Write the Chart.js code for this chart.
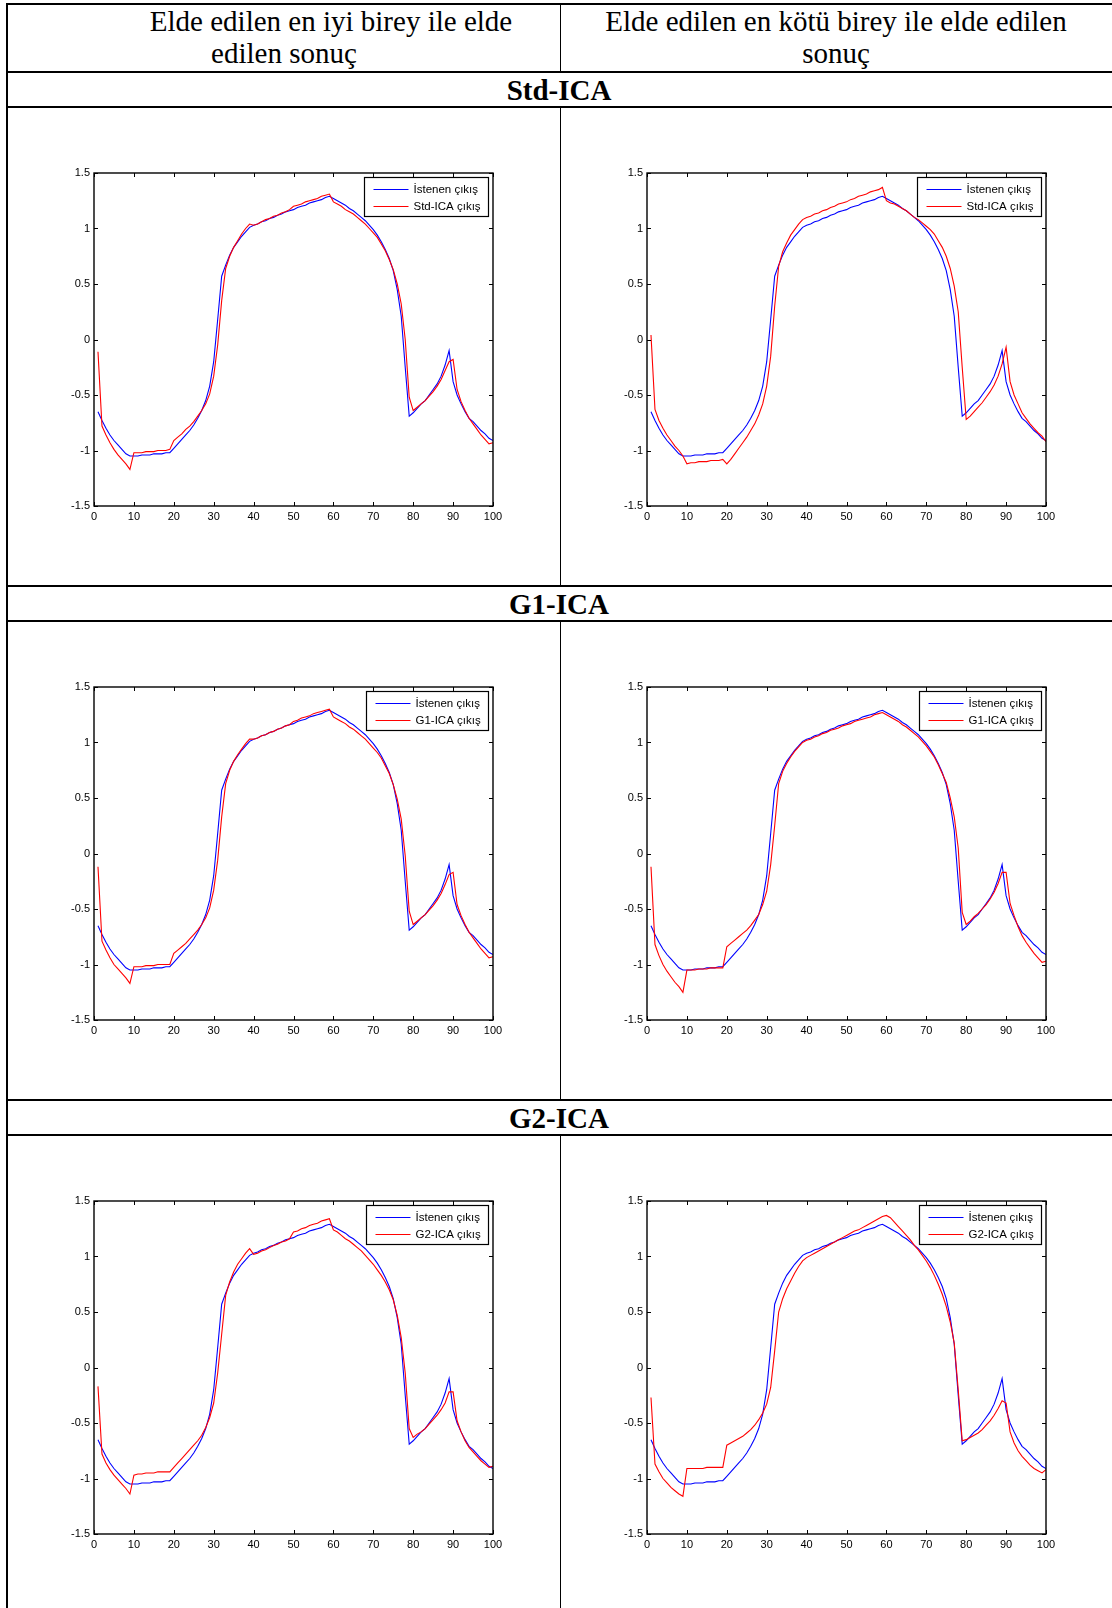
<!DOCTYPE html>
<html lang="tr">
<head>
<meta charset="utf-8">
<title>ICA çıkışları</title>
<script src="https://cdn.jsdelivr.net/npm/chart.js@4.4.1/dist/chart.umd.min.js"></script>
<style>
  body { margin: 0; background: #fff; }
  #page { position: relative; width: 1112px; height: 1608px; overflow: hidden; background: #fff; }
  .rule { position: absolute; background: #000; }
  .cell-text {
    position: absolute;
    font-family: 'Liberation Serif', 'Times New Roman', serif;
    font-size: 29px;
    line-height: 32px;
    white-space: nowrap;
    color: #000;
    transform: translateX(-50%);
  }
  .section-title { font-weight: bold; }
  canvas { position: absolute; }
</style>
</head>
<body>
<div id="page">
  <div class="cell-text" style="left:331px; top:5px;">Elde edilen en iyi birey ile elde</div>
  <div class="cell-text" style="left:284px; top:37px;">edilen sonuç</div>
  <div class="cell-text" style="left:836px; top:5px;">Elde edilen en kötü birey ile elde edilen</div>
  <div class="cell-text" style="left:836px; top:37px;">sonuç</div>
</div>

<script>
// --- data -----------------------------------------------------------
const methods = ['Std-ICA', 'G1-ICA', 'G2-ICA'];
const xTicks = [0, 10, 20, 30, 40, 50, 60, 70, 80, 90, 100];
const yTicks = [-1.5, -1, -0.5, 0, 0.5, 1, 1.5];
const sampleIdx = Array.from({ length: 100 }, (_, i) => i + 1);

// desired output (same target in every panel)
const desired = [
  -0.65, -0.73, -0.80, -0.86, -0.91, -0.95, -0.99, -1.03, -1.05, -1.05,
  -1.05, -1.04, -1.04, -1.04, -1.03, -1.03, -1.03, -1.02, -1.02, -0.98,
  -0.94, -0.90, -0.86, -0.82, -0.77, -0.71, -0.64, -0.55, -0.42, -0.20,
   0.18,  0.57,  0.67,  0.76,  0.83,  0.88,  0.93,  0.97,  1.01,  1.03,
   1.04,  1.06,  1.07,  1.09,  1.10,  1.12,  1.13,  1.15,  1.16,  1.17,
   1.19,  1.20,  1.21,  1.23,  1.24,  1.25,  1.26,  1.28,  1.29,  1.27,
   1.25,  1.23,  1.21,  1.18,  1.16,  1.13,  1.10,  1.07,  1.03,  0.99,
   0.94,  0.88,  0.81,  0.73,  0.62,  0.45,  0.21, -0.25, -0.69, -0.66,
  -0.62, -0.58, -0.55, -0.50, -0.45, -0.40, -0.33, -0.23, -0.10, -0.38,
  -0.50, -0.58, -0.65, -0.71, -0.74, -0.78, -0.82, -0.85, -0.89, -0.91
];

const stdBest = [
  -0.11, -0.78, -0.86, -0.93, -0.99, -1.04, -1.08, -1.12, -1.17, -1.02,
  -1.02, -1.02, -1.01, -1.01, -1.01, -1.00, -1.00, -1.00, -0.99, -0.91,
  -0.88, -0.85, -0.81, -0.78, -0.74, -0.69, -0.64, -0.58, -0.49, -0.33,
  -0.05,  0.35,  0.64,  0.75,  0.83,  0.89,  0.95,  1.00,  1.04,  1.03,
   1.04,  1.06,  1.08,  1.09,  1.11,  1.12,  1.14,  1.15,  1.17,  1.20,
   1.21,  1.22,  1.24,  1.25,  1.26,  1.27,  1.29,  1.30,  1.31,  1.24,
   1.22,  1.20,  1.17,  1.15,  1.13,  1.10,  1.07,  1.04,  1.00,  0.96,
   0.92,  0.86,  0.80,  0.72,  0.63,  0.50,  0.32,  0.00, -0.52, -0.64,
  -0.61, -0.58, -0.55, -0.51, -0.47, -0.42, -0.36, -0.28, -0.20, -0.18,
  -0.45, -0.56, -0.64, -0.71, -0.76, -0.81, -0.86, -0.90, -0.94, -0.93
];

const stdWorst = [
   0.04, -0.63, -0.73, -0.80, -0.86, -0.91, -0.96, -1.00, -1.05, -1.12,
  -1.11, -1.11, -1.10, -1.10, -1.10, -1.09, -1.09, -1.09, -1.08, -1.12,
  -1.08, -1.03, -0.98, -0.93, -0.88, -0.82, -0.76, -0.68, -0.58, -0.42,
  -0.15,  0.30,  0.66,  0.79,  0.87,  0.94,  0.99,  1.04,  1.08,  1.10,
   1.11,  1.13,  1.14,  1.16,  1.17,  1.19,  1.20,  1.22,  1.23,  1.24,
   1.26,  1.27,  1.29,  1.30,  1.31,  1.33,  1.34,  1.35,  1.37,  1.25,
   1.23,  1.22,  1.20,  1.18,  1.16,  1.13,  1.10,  1.08,  1.05,  1.02,
   0.99,  0.95,  0.89,  0.83,  0.75,  0.64,  0.48,  0.25, -0.25, -0.72,
  -0.69, -0.65, -0.61, -0.57, -0.52, -0.47, -0.41, -0.33, -0.22, -0.07,
  -0.38, -0.50, -0.58, -0.66, -0.71, -0.76, -0.80, -0.84, -0.87, -0.92
];

const g1Best = [
  -0.12, -0.79, -0.87, -0.94, -1.00, -1.04, -1.08, -1.12, -1.17, -1.02,
  -1.02, -1.02, -1.01, -1.01, -1.01, -1.00, -1.00, -1.00, -1.00, -0.90,
  -0.87, -0.84, -0.81, -0.77, -0.73, -0.69, -0.64, -0.58, -0.49, -0.33,
  -0.06,  0.33,  0.63,  0.75,  0.83,  0.89,  0.94,  0.99,  1.03,  1.03,
   1.04,  1.06,  1.07,  1.09,  1.10,  1.12,  1.13,  1.15,  1.16,  1.19,
   1.20,  1.22,  1.23,  1.24,  1.26,  1.27,  1.28,  1.29,  1.30,  1.23,
   1.21,  1.19,  1.17,  1.14,  1.12,  1.09,  1.06,  1.03,  0.99,  0.95,
   0.91,  0.86,  0.79,  0.72,  0.62,  0.49,  0.31, -0.02, -0.52, -0.64,
  -0.61, -0.58, -0.55, -0.51, -0.47, -0.42, -0.36, -0.28, -0.19, -0.17,
  -0.46, -0.56, -0.64, -0.71, -0.76, -0.81, -0.86, -0.90, -0.94, -0.93
];

const g1Worst = [
  -0.12, -0.82, -0.92, -1.00, -1.06, -1.11, -1.16, -1.20, -1.25, -1.05,
  -1.05, -1.05, -1.04, -1.04, -1.04, -1.03, -1.03, -1.03, -1.03, -0.84,
  -0.81, -0.78, -0.75, -0.72, -0.69, -0.65, -0.60, -0.55, -0.46, -0.34,
  -0.10,  0.25,  0.63,  0.74,  0.81,  0.87,  0.92,  0.96,  1.00,  1.02,
   1.03,  1.05,  1.06,  1.08,  1.09,  1.11,  1.12,  1.13,  1.15,  1.16,
   1.17,  1.19,  1.20,  1.21,  1.22,  1.23,  1.25,  1.26,  1.27,  1.25,
   1.23,  1.21,  1.19,  1.16,  1.14,  1.11,  1.08,  1.05,  1.01,  0.97,
   0.92,  0.87,  0.80,  0.72,  0.64,  0.50,  0.33,  0.05, -0.53, -0.64,
  -0.61, -0.57, -0.54, -0.50, -0.46, -0.41, -0.35, -0.27, -0.17, -0.17,
  -0.45, -0.56, -0.66, -0.74, -0.80, -0.85, -0.90, -0.94, -0.98, -0.97
];

const g2Best = [
  -0.17, -0.78, -0.86, -0.92, -0.97, -1.01, -1.05, -1.09, -1.14, -0.97,
  -0.96, -0.96, -0.95, -0.95, -0.95, -0.94, -0.94, -0.94, -0.94, -0.90,
  -0.86, -0.82, -0.78, -0.74, -0.70, -0.66, -0.61, -0.54, -0.45, -0.32,
  -0.05,  0.30,  0.65,  0.77,  0.86,  0.93,  0.98,  1.03,  1.07,  1.02,
   1.03,  1.05,  1.06,  1.08,  1.10,  1.11,  1.13,  1.14,  1.16,  1.22,
   1.23,  1.25,  1.26,  1.28,  1.29,  1.30,  1.32,  1.33,  1.34,  1.24,
   1.22,  1.19,  1.16,  1.14,  1.11,  1.08,  1.05,  1.01,  0.97,  0.93,
   0.88,  0.83,  0.77,  0.70,  0.61,  0.47,  0.27, -0.05, -0.55, -0.63,
  -0.60, -0.58, -0.55, -0.51, -0.47, -0.43, -0.38, -0.32, -0.22, -0.22,
  -0.48, -0.58, -0.66, -0.72, -0.76, -0.80, -0.84, -0.87, -0.90, -0.89
];

const g2Worst = [
  -0.27, -0.87, -0.94, -1.00, -1.04, -1.08, -1.11, -1.14, -1.16, -0.91,
  -0.91, -0.91, -0.91, -0.91, -0.90, -0.90, -0.90, -0.90, -0.90, -0.70,
  -0.68, -0.66, -0.64, -0.62, -0.59, -0.56, -0.52, -0.47, -0.41, -0.33,
  -0.18,  0.15,  0.50,  0.62,  0.71,  0.78,  0.85,  0.91,  0.96,  0.99,
   1.01,  1.03,  1.05,  1.07,  1.09,  1.11,  1.13,  1.15,  1.17,  1.19,
   1.21,  1.23,  1.24,  1.26,  1.28,  1.30,  1.32,  1.34,  1.36,  1.37,
   1.35,  1.31,  1.27,  1.23,  1.19,  1.15,  1.10,  1.06,  1.01,  0.96,
   0.90,  0.83,  0.75,  0.66,  0.55,  0.41,  0.22, -0.20, -0.66, -0.65,
  -0.63, -0.61, -0.59, -0.56, -0.52, -0.48, -0.43, -0.37, -0.30, -0.32,
  -0.58, -0.68, -0.75, -0.80, -0.84, -0.88, -0.91, -0.93, -0.95, -0.92
];

const bestRuns = [stdBest, g1Best, g2Best];
const worstRuns = [stdWorst, g1Worst, g2Worst];

// --- layout ---------------------------------------------------------
const SECTION_PITCH = 514;
const TICK = 4;
const PAD_TOP = 11;   // chart.js keeps at least this above the plot for the top y label
const axisFont = { family: "'Liberation Sans', Arial, sans-serif", size: 11 };
const page = document.getElementById('page');

function rule(left, top, width, height) {
  const d = document.createElement('div');
  d.className = 'rule';
  Object.assign(d.style, { left: left + 'px', top: top + 'px', width: width + 'px', height: height + 'px' });
  page.appendChild(d);
}

// outer frame + header divider
rule(6, 3, 1106, 2);
rule(6, 3, 2, 1605);
rule(560, 3, 1, 68);

// frame box, inward ticks on all four sides and a boxed legend
const matlabFrame = {
  id: 'matlabFrame',
  afterDatasetsDraw(chart) {
    const { ctx, chartArea: a, scales: { x, y } } = chart;
    ctx.save();
    ctx.strokeStyle = '#000';
    ctx.lineWidth = 1;
    ctx.beginPath();
    xTicks.forEach(v => {
      const px = Math.round(x.getPixelForValue(v)) + 0.5;
      ctx.moveTo(px, a.bottom); ctx.lineTo(px, a.bottom - TICK);
      ctx.moveTo(px, a.top); ctx.lineTo(px, a.top + TICK);
    });
    yTicks.forEach(v => {
      const py = Math.round(y.getPixelForValue(v)) + 0.5;
      ctx.moveTo(a.left, py); ctx.lineTo(a.left + TICK, py);
      ctx.moveTo(a.right, py); ctx.lineTo(a.right - TICK, py);
    });
    ctx.stroke();
    ctx.lineWidth = 1.4;
    ctx.strokeRect(a.left, a.top, a.right - a.left, a.bottom - a.top);

    // legend
    ctx.font = "11.5px 'Liberation Sans', Arial, sans-serif";
    const sets = chart.data.datasets;
    const textW = Math.max(...sets.map(d => ctx.measureText(d.label).width));
    const w = Math.round(49 + textW + 8);
    const h = 39;
    const bx = Math.round(a.right - 5 - w) + 0.5;
    const by = Math.round(a.top + 4) + 0.5;
    ctx.fillStyle = '#fff';
    ctx.fillRect(bx, by, w, h);
    ctx.lineWidth = 1.2;
    ctx.strokeStyle = '#000';
    ctx.strokeRect(bx, by, w, h);
    ctx.textBaseline = 'middle';
    sets.forEach((d, i) => {
      const ly = Math.round(by + 11 + i * 17) + 0.5;
      ctx.strokeStyle = d.borderColor;
      ctx.lineWidth = 1;
      ctx.beginPath();
      ctx.moveTo(bx + 9, ly);
      ctx.lineTo(bx + 44, ly);
      ctx.stroke();
      ctx.fillStyle = '#000';
      ctx.fillText(d.label, bx + 49, ly + 0.5);
    });
    ctx.restore();
  }
};

function makePanel(left, top, method, run) {
  const canvas = document.createElement('canvas');
  canvas.width = 453;
  canvas.height = PAD_TOP + 333 + 20;
  canvas.style.left = left + 'px';
  canvas.style.top = top + 'px';
  page.appendChild(canvas);

  new Chart(canvas, {
    type: 'line',
    data: {
      labels: sampleIdx,
      datasets: [
        { label: 'İstenen çıkış', data: desired, borderColor: '#0000ff', borderWidth: 1.1,
          pointRadius: 0, tension: 0, fill: false, order: 1 },
        { label: method + ' çıkış', data: run, borderColor: '#ff0000', borderWidth: 1.1,
          pointRadius: 0, tension: 0, fill: false, order: 0 }
      ]
    },
    options: {
      responsive: false,
      animation: false,
      events: [],
      layout: { padding: { left: 0, right: 14, top: PAD_TOP, bottom: 0 } },
      plugins: { legend: { display: false }, tooltip: { enabled: false } },
      scales: {
        x: {
          type: 'linear', min: 0, max: 100,
          afterFit: s => { s.height = 20; },
          grid: { display: false, drawTicks: false },
          border: { display: false },
          ticks: { stepSize: 10, padding: 4, maxRotation: 0, autoSkip: false, color: '#000', font: axisFont,
                   callback: v => String(v) }
        },
        y: {
          type: 'linear', min: -1.5, max: 1.5,
          afterFit: s => { s.width = 40; },
          grid: { display: false, drawTicks: false },
          border: { display: false },
          ticks: { stepSize: 0.5, padding: 4, autoSkip: false, color: '#000', font: axisFont,
                   callback: v => String(Math.round(v * 10) / 10) }
        }
      }
    },
    plugins: [matlabFrame]
  });
}

methods.forEach((method, i) => {
  const off = i * SECTION_PITCH;
  // section title row
  rule(6, 71 + off, 1106, 2);
  rule(6, 106 + off, 1106, 2);
  const t = document.createElement('div');
  t.className = 'cell-text section-title';
  t.style.left = '559px';
  t.style.top = (74 + off) + 'px';
  t.textContent = method;
  page.appendChild(t);
  // column divider for the plot row
  const end = i < methods.length - 1 ? 71 + off + SECTION_PITCH : 1608;
  rule(560, 108 + off, 1, end - (108 + off));

  // plot areas start at y = 173 + off
  makePanel(54, 173 - PAD_TOP + off, method, bestRuns[i]);
  makePanel(607, 173 - PAD_TOP + off, method, worstRuns[i]);
});
</script>
</body>
</html>
